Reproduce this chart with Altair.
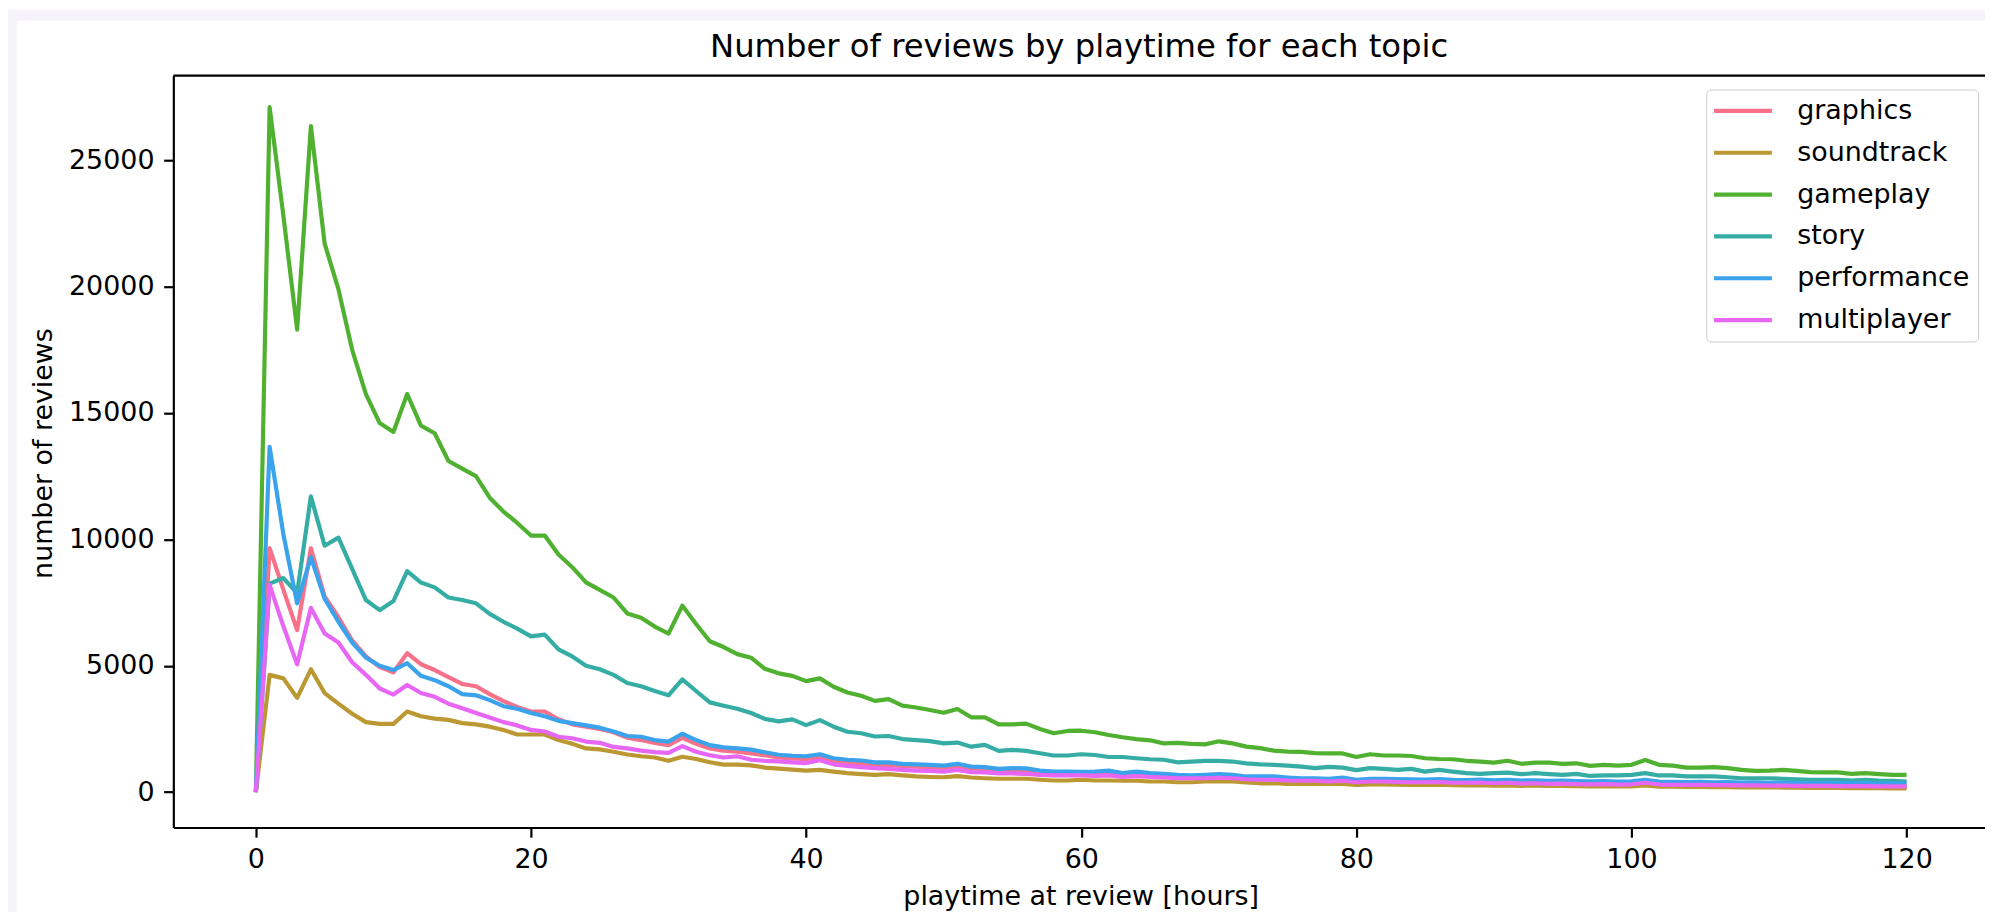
import altair as alt
import pandas as pd

# ---------------- data ----------------
topics = ["graphics", "soundtrack", "gameplay", "story", "performance", "multiplayer"]
colors = ["#f77189", "#bb9832", "#50b131", "#36ada4", "#3ba3ec", "#e866f4"]
hours = list(range(121))

graphics = [
    0, 9650, 8000, 6410, 9650, 7740, 6920, 6000, 5370, 4950,
    4740, 5500, 5060, 4830, 4550, 4280, 4190, 3880, 3600, 3370,
    3190, 3190, 2880, 2680, 2590, 2500, 2370, 2150, 2060, 1950,
    1860, 2150, 1910, 1730, 1640, 1600, 1530, 1460, 1370, 1330,
    1300, 1390, 1230, 1180, 1140, 1080, 1090, 1030, 1010, 990,
    960, 1030, 920, 900, 850, 870, 860, 790, 750, 750,
    740, 740, 770, 690, 730, 680, 650, 620, 610, 620,
    650, 620, 570, 570, 560, 530, 510, 500, 480, 520,
    450, 480, 470, 460, 450, 440, 450, 420, 410, 420,
    400, 410, 380, 390, 370, 380, 360, 350, 360, 340,
    340, 400, 330, 320, 310, 310, 300, 300, 280, 290,
    270, 270, 260, 250, 250, 240, 240, 230, 220, 220,
    210,
]
soundtrack = [
    0, 4640, 4500, 3730, 4860, 3920, 3500, 3100, 2770, 2700,
    2700, 3190, 3000, 2910, 2860, 2730, 2680, 2590, 2460, 2280,
    2280, 2280, 2060, 1910, 1730, 1690, 1600, 1490, 1420, 1370,
    1240, 1400, 1310, 1180, 1090, 1090, 1060, 970, 930, 890,
    850, 880, 810, 750, 710, 680, 710, 660, 620, 600,
    590, 630, 580, 550, 530, 530, 530, 490, 460, 460,
    490, 460, 460, 450, 450, 420, 420, 390, 390, 420,
    420, 420, 380, 350, 350, 330, 330, 330, 330, 330,
    290, 310, 310, 300, 290, 290, 300, 280, 270, 280,
    260, 270, 250, 260, 250, 250, 240, 230, 240, 230,
    230, 270, 220, 220, 210, 210, 200, 200, 190, 190,
    190, 180, 180, 170, 170, 170, 160, 160, 160, 150,
    150,
]
gameplay = [
    0, 27100, 22800, 18300, 26350, 21700, 19900, 17500, 15750, 14600,
    14250, 15750, 14500, 14200, 13100, 12800, 12500, 11650, 11100, 10650,
    10150, 10150, 9400, 8900, 8300, 8000, 7700, 7070, 6900, 6550,
    6270, 7380, 6650, 5970, 5740, 5460, 5320, 4880, 4700, 4600,
    4390, 4500, 4170, 3940, 3810, 3610, 3680, 3420, 3350, 3250,
    3140, 3290, 2960, 2960, 2680, 2680, 2710, 2500, 2330, 2420,
    2430, 2370, 2260, 2170, 2100, 2050, 1930, 1950, 1910, 1890,
    2010, 1930, 1800, 1740, 1640, 1600, 1590, 1540, 1530, 1530,
    1390, 1500, 1450, 1450, 1430, 1340, 1310, 1300, 1240, 1210,
    1170, 1240, 1120, 1170, 1170, 1120, 1140, 1040, 1080, 1050,
    1080, 1270, 1080, 1050, 970, 970, 990, 950, 880, 840,
    850, 880, 840, 790, 780, 780, 720, 750, 710, 680,
    680,
]
story = [
    0, 8250, 8470, 7870, 11700, 9750, 10070, 8830, 7600, 7200,
    7560, 8740, 8290, 8100, 7700, 7600, 7470, 7050, 6740, 6470,
    6160, 6230, 5650, 5370, 5000, 4860, 4640, 4320, 4190, 4000,
    3830, 4460, 4000, 3550, 3420, 3300, 3130, 2900, 2800, 2880,
    2650, 2850, 2590, 2390, 2330, 2200, 2220, 2100, 2060, 2020,
    1930, 1960, 1800, 1870, 1630, 1670, 1630, 1540, 1450, 1450,
    1500, 1470, 1390, 1390, 1340, 1300, 1280, 1180, 1210, 1240,
    1240, 1210, 1140, 1100, 1080, 1050, 1010, 950, 1000, 970,
    870, 950, 920, 880, 920, 810, 880, 810, 750, 720,
    750, 770, 710, 750, 710, 680, 720, 640, 660, 660,
    680, 750, 660, 660, 620, 620, 620, 590, 550, 550,
    550, 530, 510, 490, 490, 490, 460, 490, 460, 450,
    420,
]
performance = [
    0, 13660, 10200, 7470, 9300, 7650, 6740, 5920, 5320, 5000,
    4830, 5100, 4600, 4430, 4190, 3880, 3830, 3640, 3400, 3300,
    3130, 3000, 2820, 2730, 2640, 2550, 2400, 2220, 2190, 2060,
    2000, 2310, 2060, 1860, 1770, 1730, 1680, 1580, 1480, 1440,
    1420, 1500, 1340, 1280, 1250, 1180, 1180, 1120, 1100, 1080,
    1050, 1120, 1010, 990, 920, 950, 940, 850, 810, 810,
    800, 810, 850, 750, 810, 750, 720, 680, 660, 680,
    710, 680, 620, 620, 620, 580, 550, 550, 530, 580,
    490, 530, 530, 520, 510, 500, 520, 490, 480, 500,
    470, 490, 460, 470, 450, 460, 440, 430, 440, 420,
    430, 490, 420, 410, 400, 410, 390, 400, 380, 390,
    370, 380, 370, 360, 370, 350, 360, 350, 340, 350,
    340,
]
multiplayer = [
    0, 8200, 6560, 5060, 7290, 6280, 5920, 5140, 4640, 4100,
    3860, 4240, 3920, 3770, 3500, 3320, 3130, 2950, 2770, 2640,
    2460, 2400, 2190, 2130, 2000, 1950, 1790, 1730, 1640, 1580,
    1550, 1820, 1600, 1460, 1370, 1420, 1280, 1240, 1220, 1180,
    1150, 1260, 1100, 1040, 990, 950, 920, 880, 850, 840,
    810, 880, 790, 780, 740, 740, 720, 680, 660, 660,
    660, 640, 660, 600, 630, 600, 580, 550, 550, 550,
    570, 550, 510, 490, 490, 460, 450, 450, 420, 450,
    390, 420, 420, 400, 390, 390, 400, 370, 370, 380,
    350, 370, 340, 350, 330, 340, 320, 310, 320, 300,
    310, 370, 300, 290, 290, 290, 280, 280, 270, 270,
    260, 260, 250, 250, 250, 240, 240, 240, 230, 230,
    230,
]
x_ticks = [0, 20, 40, 60, 80, 100, 120]
y_ticks = [0, 5000, 10000, 15000, 20000, 25000]

series = [graphics, soundtrack, gameplay, story, performance, multiplayer]
rows = []
for name, vals in zip(topics, series):
    for h, v in zip(hours, vals):
        rows.append({"hour": h, "topic": name, "reviews": v})
df = pd.DataFrame(rows)

# ---------------- layout ----------------
W, H = 1819, 755
FONT = "DejaVu Sans"
LAV = "#f6f4fa"
one = alt.Data(values=[{"k": 1}])

band_top = alt.Chart(one).mark_rect(color=LAV).encode(
    x=alt.value(-166), x2=alt.value(W), y=alt.value(-66), y2=alt.value(-55)
)
band_left = alt.Chart(one).mark_rect(color=LAV).encode(
    x=alt.value(-166), x2=alt.value(-157), y=alt.value(-66), y2=alt.value(H + 85)
)

lines = alt.Chart(df).mark_line(strokeWidth=4.2, strokeJoin="round").encode(
    x=alt.X(
        "hour:Q",
        scale=alt.Scale(domain=[-6, 125.7], nice=False, zero=False),
        axis=alt.Axis(
            values=x_ticks,
            format="d",
            title="playtime at review [hours]",
            titleX=911,
            titleY=77,
            titleBaseline="alphabetic",
        ),
    ),
    y=alt.Y(
        "reviews:Q",
        scale=alt.Scale(domain=[-1400, 28350], nice=False, zero=False),
        axis=alt.Axis(
            values=y_ticks,
            format="d",
            title="number of reviews",
            titleX=-122,
            titleY=379,
            titleBaseline="alphabetic",
        ),
    ),
    color=alt.Color(
        "topic:N",
        scale=alt.Scale(domain=topics, range=colors),
        sort=topics,
        title=None,
        legend=alt.Legend(
            orient="none",
            legendX=1539,
            legendY=14,
            padding=8,
            rowPadding=14,
            symbolType="M-2.64,0L2.64,0",
            symbolSize=484,
            symbolStrokeWidth=4.2,
            symbolOffset=15.5,
            labelOffset=41,
            labelLimit=400,
            labelFontSize=27,
            labelFont=FONT,
            labelColor="black",
            strokeColor="#cccccc",
            fillColor="rgba(255,255,255,0.8)",
            cornerRadius=5,
        ),
    ),
)

top_spine = alt.Chart(one).mark_rule(color="black", strokeWidth=2.2).encode(
    x=alt.value(0), x2=alt.value(W), y=alt.value(0)
)

chart = (
    alt.layer(band_top, band_left, lines, top_spine)
    .properties(
        width=W,
        height=H,
        title=alt.TitleParams(
            text="Number of reviews by playtime for each topic",
            font=FONT,
            fontSize=32.4,
            fontWeight="normal",
            color="black",
            anchor="middle",
            frame="group",
            baseline="alphabetic",
            offset=15,
            dy=94.5,
        ),
        autosize=alt.AutoSizeParams(type="none"),
        padding={"left": 166, "top": 66, "right": 0, "bottom": 85},
    )
    .configure(background="white")
    .configure_view(stroke="transparent", strokeWidth=0)
    .configure_axis(
        domainColor="black",
        domainWidth=2.2,
        tickColor="black",
        tickWidth=2.2,
        tickSize=9.7,
        labelFont=FONT,
        labelFontSize=27,
        labelColor="black",
        labelPadding=9.7,
        labelFlush=False,
        labelOverlap=False,
        titleFont=FONT,
        titleFontSize=27,
        titleFontWeight="normal",
        titleColor="black",
        grid=False,
        zindex=1,
    )
)

chart.save("out.html", embed_options={"renderer": "svg", "actions": False})
